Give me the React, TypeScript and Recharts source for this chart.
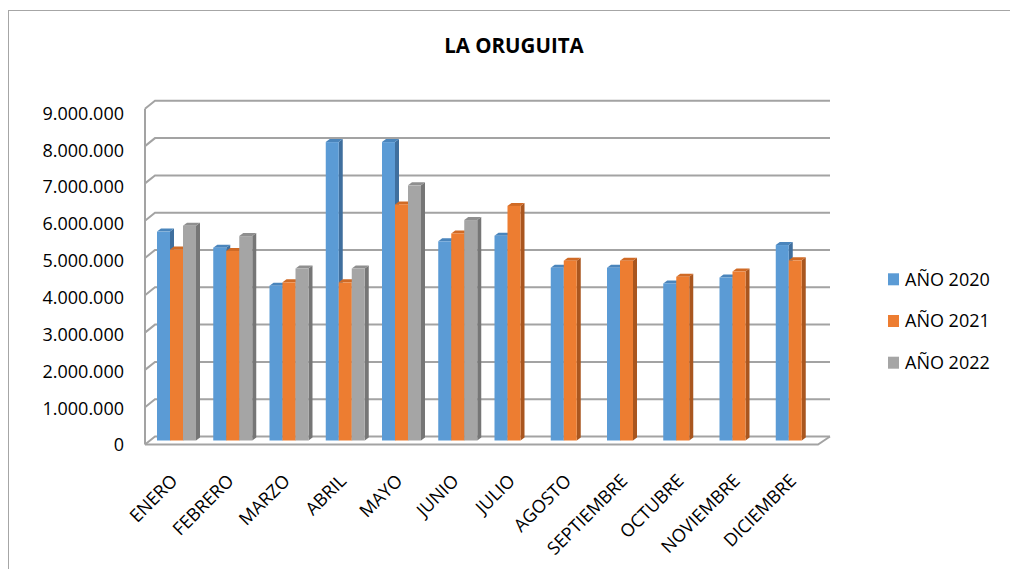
import React from 'react';
import { BarChart, Bar, XAxis, YAxis, CartesianGrid, Legend } from 'recharts';

const months = ['ENERO', 'FEBRERO', 'MARZO', 'ABRIL', 'MAYO', 'JUNIO', 'JULIO', 'AGOSTO', 'SEPTIEMBRE', 'OCTUBRE', 'NOVIEMBRE', 'DICIEMBRE'];
const anio2020 = [5600000, 5170000, 4150000, 8000000, 8000000, 5340000, 5490000, 4630000, 4630000, 4210000, 4370000, 5240000];
const anio2021 = [5120000, 5080000, 4240000, 4240000, 6330000, 5550000, 6290000, 4820000, 4820000, 4390000, 4530000, 4830000];
const anio2022 = [5760000, 5480000, 4610000, 4610000, 6840000, 5910000, null, null, null, null, null, null];
const yTicks = [0, 1000000, 2000000, 3000000, 4000000, 5000000, 6000000, 7000000, 8000000, 9000000];
const seriesNames = ['AÑO 2020', 'AÑO 2021', 'AÑO 2022'];
const chartTitle = 'LA ORUGUITA';

const data = months.map((m, i) => ({ month: m, a2020: anio2020[i], a2021: anio2021[i], a2022: anio2022[i] }));

const W = 1010;
const H = 569;
const PLOT_LEFT = 148;
const PLOT_RIGHT = 823;
const PLOT_TOP = 104.8;
const PLOT_BOTTOM = 440.5;
const FONT = '"Open Sans", "Noto Sans", sans-serif';
const GRID = '#A3A3A3';

const fmt = (v: number) => String(v).replace(/\B(?=(\d{3})+(?!\d))/g, '.');

const make3D = (front: string, side: string, top: string) => (props: any) => {
  const { x, y, width, height } = props;
  if (height == null || !(height > 0)) return <g />;
  const d = 4;
  const dy = 3;
  return (
    <g>
      <polygon points={`${x + width},${y} ${x + width + d},${y - dy} ${x + width + d},${y + height - dy} ${x + width},${y + height}`} fill={side} />
      <polygon points={`${x},${y} ${x + d},${y - dy} ${x + width + d},${y - dy} ${x + width},${y}`} fill={top} />
      <rect x={x} y={y} width={width} height={height} fill={front} />
    </g>
  );
};

const gridLine = (p: any) => {
  const { x1, x2, y1 } = p;
  const top = p.y != null ? p.y : PLOT_TOP;
  const bottom = p.y != null && p.height != null ? p.y + p.height : PLOT_BOTTOM;
  const isFloor = Math.abs(y1 - bottom) < 1;
  const isTop = Math.abs(y1 - top) < 1;
  return (
    <g key={`g-${y1}`}>
      <path d={`M${x1 - 3},${y1 + 4} L${x1 + 7},${y1 - 4} L${x2 + 7},${y1 - 4}`} fill="none" stroke={GRID} strokeWidth={2} />
      {isFloor && (
        <path d={`M${x1 - 3},${y1 + 4} L${x2 - 5},${y1 + 4} L${x2 + 7},${y1 - 4}`} fill="none" stroke={GRID} strokeWidth={2} />
      )}
      {isTop && <line x1={x1 - 3} y1={top + 4} x2={x1 - 3} y2={bottom + 4} stroke={GRID} strokeWidth={2} />}
    </g>
  );
};

const YTick = (props: any) => {
  const { y, payload } = props;
  const capCenter = y + 4.5 + (PLOT_BOTTOM - y) * 0.0118;
  return (
    <text x={124} y={capCenter + 6.4} textAnchor="end" fontSize={18} fontFamily={FONT} fill="#000">
      {fmt(payload.value)}
    </text>
  );
};

const XTick = (props: any) => {
  const { x, payload } = props;
  const px = x + 2.5;
  const py = PLOT_BOTTOM + 41.5;
  return (
    <text x={px} y={py} transform={`rotate(-45 ${px} ${py})`} textAnchor="end" fontSize={18} fontFamily={FONT} fill="#000">
      {payload.value}
    </text>
  );
};

const LegendContent = (props: any) => {
  const payload = props.payload || [];
  return (
    <svg width={130} height={130} style={{ display: 'block' }}>
      {payload.map((e: any, i: number) => {
        const cc = 19.3 + i * 41.7;
        return (
          <g key={i}>
            <rect x={8} y={cc - 6} width={11} height={12} fill={e.color} />
            <text x={25} y={cc + 6.4} fontSize={18} fontFamily={FONT} fill="#000">
              {e.value}
            </text>
          </g>
        );
      })}
    </svg>
  );
};

export default function App() {
  return (
    <div style={{ position: 'absolute', left: 0, top: 0, width: W, height: H, background: '#fff', overflow: 'hidden', fontFamily: FONT }}>
      <div style={{ position: 'absolute', left: 8, top: 10, width: 1100, height: 700, border: '1px solid #A6A6A6', boxSizing: 'border-box' }} />
      <div
        style={{
          position: 'absolute',
          left: 0,
          top: 35.4,
          width: 1028,
          textAlign: 'center',
          fontFamily: FONT,
          fontWeight: 700,
          fontSize: 20.5,
          lineHeight: '20px',
          color: '#000',
        }}
      >
        {chartTitle}
      </div>
      <div style={{ position: 'absolute', left: 0, top: 0 }}>
        <BarChart
          width={W}
          height={H}
          data={data}
          margin={{ top: PLOT_TOP, right: W - PLOT_RIGHT, bottom: H - PLOT_BOTTOM - 30, left: PLOT_LEFT - 60 }}
          barCategoryGap="16%"
          barGap={0}
        >
          <CartesianGrid vertical={false} horizontal={gridLine as any} />
          <XAxis dataKey="month" axisLine={false} tickLine={false} height={30} interval={0} tick={<XTick />} />
          <YAxis domain={[0, 9000000]} ticks={yTicks} axisLine={false} tickLine={false} width={60} tick={<YTick />} interval={0} />
          <Legend
            layout="vertical"
            align="center"
            verticalAlign="middle"
            content={<LegendContent />}
            wrapperStyle={{ position: 'absolute', left: 880, top: 260, width: 130, height: 130 }}
          />
          <Bar dataKey="a2020" name={seriesNames[0]} fill="#5B9BD5" shape={make3D('#5B9BD5', '#3F6F9E', '#4A85BC')} isAnimationActive={false} />
          <Bar dataKey="a2021" name={seriesNames[1]} fill="#ED7D31" shape={make3D('#ED7D31', '#A9561F', '#D06A25')} isAnimationActive={false} />
          <Bar dataKey="a2022" name={seriesNames[2]} fill="#A5A5A5" shape={make3D('#A5A5A5', '#767676', '#8F8F8F')} isAnimationActive={false} />
        </BarChart>
      </div>
    </div>
  );
}
